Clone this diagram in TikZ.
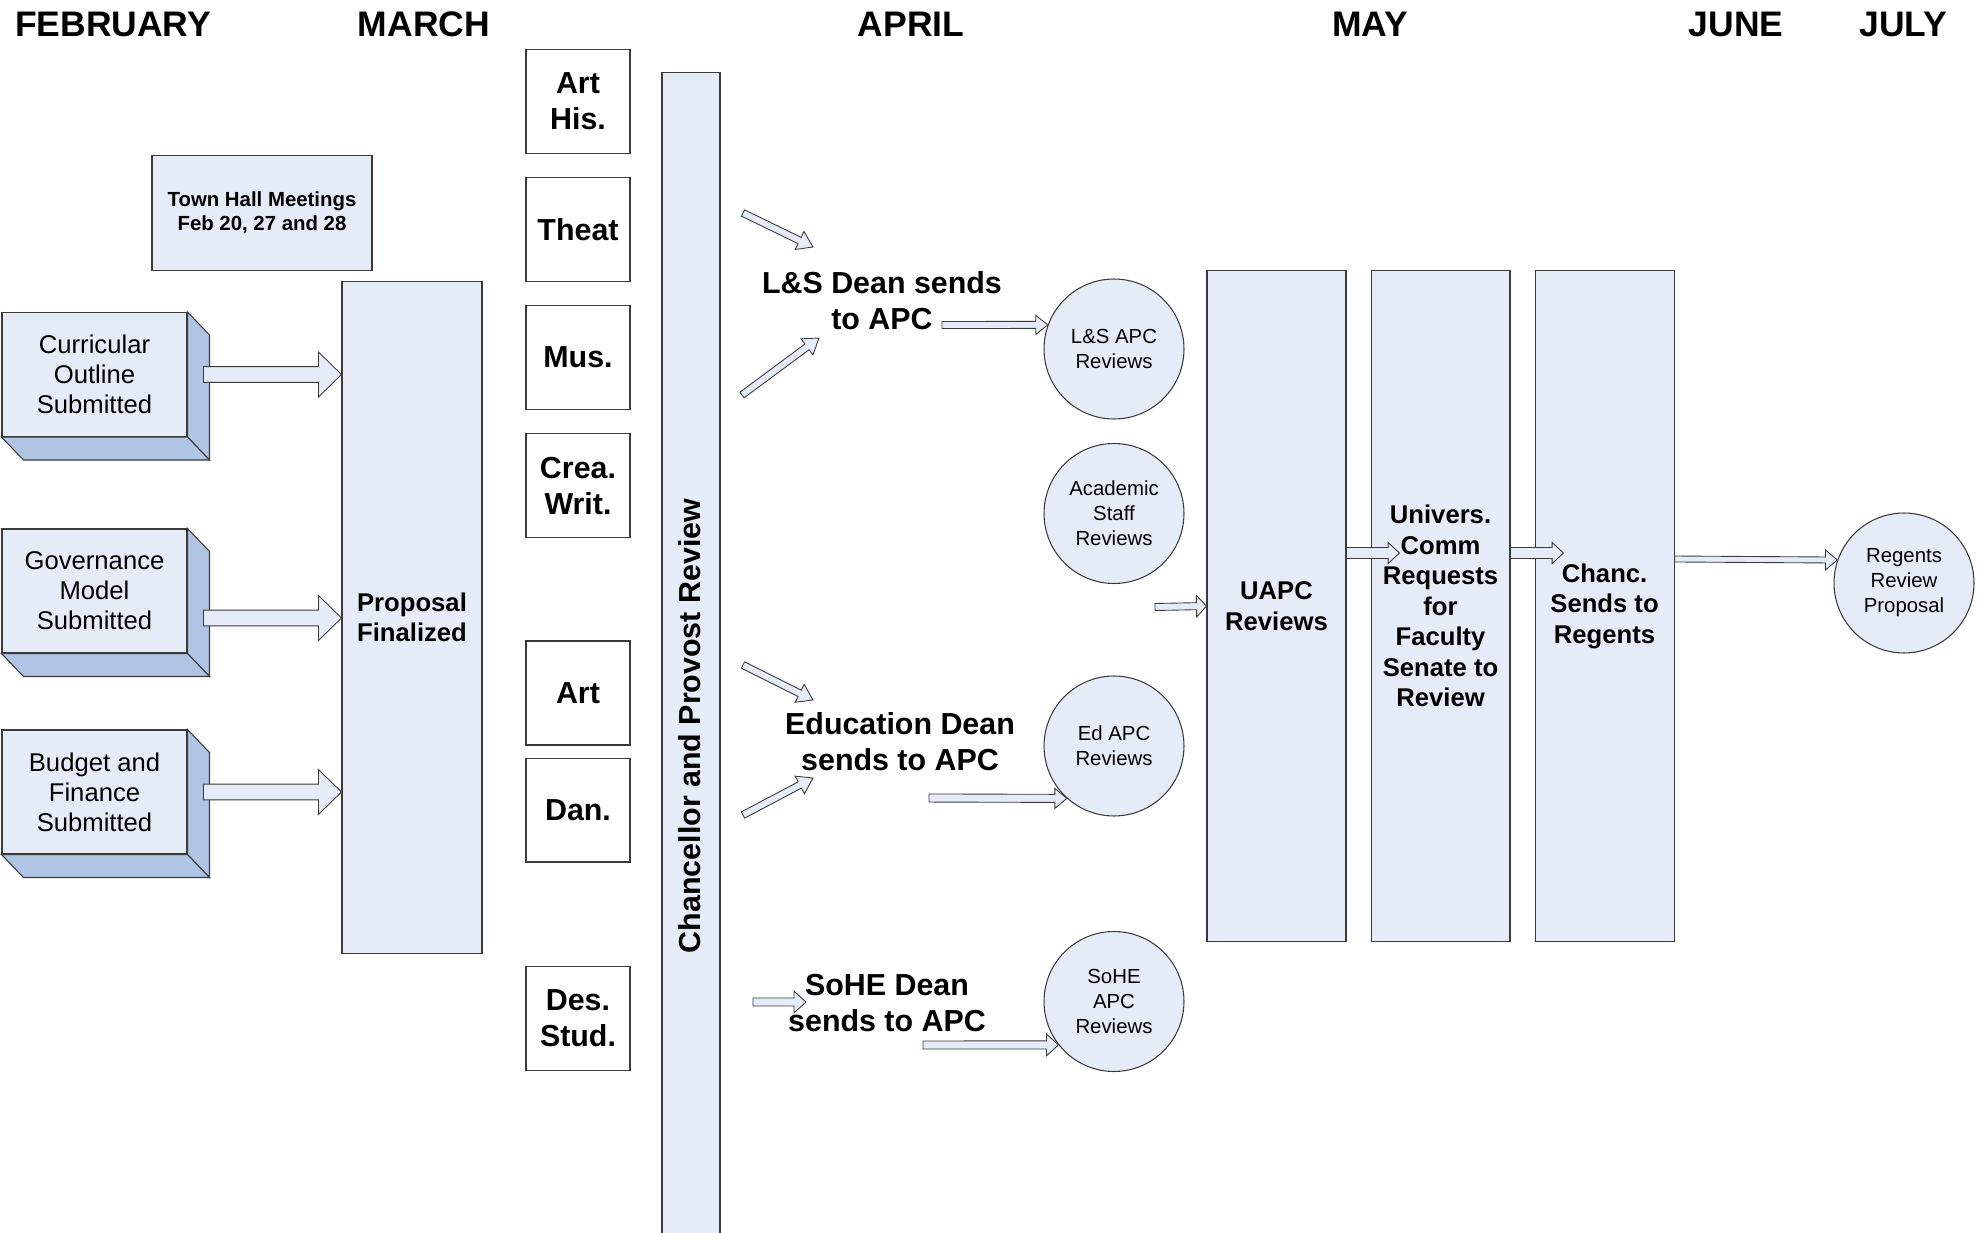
\documentclass[tikz,border=0pt]{standalone}
\usepackage{fontspec}
\setmainfont{Liberation Sans}
\usepackage{tikz}
\usetikzlibrary{positioning,calc}
\definecolor{linegray}{HTML}{3A3A3A}
\definecolor{paleblue}{HTML}{E6ECF7}
\definecolor{sideblue}{HTML}{B0C4E4}
\newcommand{\monthfont}{\bfseries\fontsize{20.2}{24}\selectfont}
\newcommand{\deptfont}{\bfseries\fontsize{17.3}{20.5}\selectfont}
\newcommand{\colfont}{\bfseries\fontsize{14.6}{17.4}\selectfont}
\newcommand{\cubefont}{\fontsize{14.6}{17}\selectfont}
\newcommand{\circfont}{\fontsize{11.6}{14.2}\selectfont}
\newcommand{\townfont}{\bfseries\fontsize{11.6}{13.7}\selectfont}
% block arrow: from, to, half shaft, half head, head length
\newcommand{\blockarrow}[5]{%
  \coordinate (ba-m) at ($(#2)!#5!(#1)$);
  \draw[blk] ($(#1)!#3!90:(#2)$) -- ($(ba-m)!#3!90:(#2)$) -- ($(ba-m)!#4!90:(#2)$) -- (#2)
    -- ($(ba-m)!#4!-90:(#2)$) -- ($(ba-m)!#3!-90:(#2)$) -- ($(#1)!#3!-90:(#2)$) -- cycle;}

\begin{document}
\begin{tikzpicture}[
    x=0.02cm, y=-0.02cm,
    box/.style={draw=linegray,fill=paleblue,line width=0.6pt,inner sep=0pt},
    cube/.style={box,minimum width=3.7cm,minimum height=2.48cm,align=center,
                 font=\cubefont},
    side/.style={draw=linegray,fill=sideblue,line width=0.6pt},
    dept/.style={draw=linegray,fill=white,line width=0.6pt,inner sep=0pt,
                 minimum width=2.08cm,minimum height=2.08cm,align=center,
                 font=\deptfont},
    circ/.style={box,circle,minimum size=2.8cm,align=center,font=\circfont},
    col/.style={box,minimum width=2.78cm,minimum height=13.44cm,align=center,
                font=\colfont},
    month/.style={font=\monthfont},
    dean/.style={align=center,font=\deptfont},
    blk/.style={draw=linegray,fill=paleblue,line width=0.5pt}
  ]
    \useasboundingbox (0,0) rectangle (1982,1233);

    % months
    \node[month] (feb) at (113,24)  {FEBRUARY};
    \node[month] (mar) at (424,24)  {MARCH};
    \node[month] (apr) at (911,24)  {APRIL};
    \node[month] (may) at (1370,24) {MAY};
    \node[month] (jun) at (1736,24) {JUNE};
    \node[month] (jul) at (1903,24) {JULY};

    % february
    \node[box,minimum width=4.4cm,minimum height=2.3cm,align=center,font=\townfont]
      (town) at (262,213) {Town Hall Meetings\\Feb 20, 27 and 28};
    \node[cube] (cur) at (94.5,374.5) {Curricular\\Outline\\Submitted};
    \node[cube] (gov) at (94.5,591)   {Governance\\Model\\Submitted};
    \node[cube] (bud) at (94.5,792)   {Budget and\\Finance\\Submitted};
    \foreach \c in {cur,gov,bud} {
      \draw[side] (\c.north east) -- ++(22,23) -- ($(\c.south east)+(22,23)$)
        -- (\c.south east) -- cycle;
      \draw[side] (\c.south west) -- (\c.south east) -- ++(22,23)
        -- ($(\c.south west)+(22,23)$) -- cycle;
    }

    % march
    \node[box,minimum width=2.8cm,minimum height=13.46cm,align=center,font=\colfont]
      (prop) at (412,617.5) {Proposal\\Finalized};
    \node[dept] (arthis) at (578,101.5) {Art\\His.};
    \node[dept, below=0.46cm of arthis] (theat) {Theat};
    \node[dept, below=0.46cm of theat]  (mus)   {Mus.};
    \node[dept, below=0.46cm of mus]    (crea)  {Crea.\\Writ.};
    \node[dept] (art) at (578,693) {Art};
    \node[dept, below=0.24cm of art]    (dan)   {Dan.};
    \node[dept] (des) at (578,1018.5) {Des.\\Stud.};

    \coordinate (cur-out) at ($(cur.east)+(16,0)$);
    \coordinate (gov-out) at ($(gov.east)+(16,27)$);
    \coordinate (bud-out) at ($(bud.east)+(16,0)$);
    \foreach \c in {cur,gov,bud} {
      \coordinate (\c-in) at (prop.west |- \c-out);
      \blockarrow{\c-out}{\c-in}{4.5pt}{12.8pt}{13.1pt}
    }

    % april
    \node[box,minimum width=1.16cm,minimum height=23.36cm] (cpr) at (691,656) {};
    \node[rotate=90,font=\deptfont] (cprtext) at (690,726) {Chancellor and Provost Review};

    \node[dean] (lsdean)   at (882,301)  {L\&S Dean sends\\to APC};
    \node[dean] (eddean)   at (900,742)  {Education Dean\\sends to APC};
    \node[dean] (sohedean) at (887,1003) {SoHE Dean\\sends to APC};

    \node[circ] (lsapc) at (1114,349)    {L\&S APC\\Reviews};
    \node[circ] (acs)   at (1114,513.5)  {Academic\\Staff\\Reviews};
    \node[circ] (edapc) at (1114,746)    {Ed APC\\Reviews};
    \node[circ] (sohe)  at (1114,1001.5) {SoHE\\APC\\Reviews};

    \coordinate (ls-a1) at (743,213); \coordinate (ls-a2) at (813,247);
    \coordinate (ls-b1) at (742,395); \coordinate (ls-b2) at (819,338);
    \coordinate (ed-a1) at (743,665); \coordinate (ed-a2) at (813,700);
    \coordinate (ed-b1) at (743,815); \coordinate (ed-b2) at (813,778);
    \coordinate (so-a1) at (753,1002); \coordinate (so-a2) at (806,1002);
    \blockarrow{ls-a1}{ls-a2}{2pt}{5.7pt}{8.5pt}
    \blockarrow{ls-b1}{ls-b2}{2pt}{5.7pt}{8.5pt}
    \blockarrow{ed-a1}{ed-a2}{2pt}{5.7pt}{8.5pt}
    \blockarrow{ed-b1}{ed-b2}{2pt}{5.7pt}{8.5pt}
    \blockarrow{so-a1}{so-a2}{2.3pt}{6.2pt}{6.8pt}

    \coordinate (ls-out) at (942,325);
    \coordinate (ed-out) at (929,798);
    \coordinate (so-out) at (923,1045);
    \blockarrow{ls-out}{lsapc.160}{2pt}{5.4pt}{6.8pt}
    \blockarrow{ed-out}{edapc.228}{2.3pt}{5.7pt}{6.8pt}
    \blockarrow{so-out}{sohe.218}{2.3pt}{6.2pt}{6.8pt}

    % may
    \node[col] (uapc) at (1276.5,606) {UAPC\\Reviews};
    \node[col, right=0.48cm of uapc] (univ)
      {Univers.\\Comm\\Requests\\for\\Faculty\\Senate to\\Review};
    \node[col, right=0.48cm of univ] (chanc) {Chanc.\\Sends to\\Regents};

    \coordinate (acs-out) at (1155,607);
    \blockarrow{acs-out}{uapc.west}{2pt}{6.2pt}{5.7pt}
    \coordinate (uapc-out) at ($(uapc.east)+(0,-53)$);
    \coordinate (univ-in)  at ($(univ.west)+(29,-53)$);
    \coordinate (univ-out) at ($(univ.east)+(0,-53)$);
    \coordinate (chanc-in) at ($(chanc.west)+(29,-53)$);
    \blockarrow{uapc-out}{univ-in}{3.1pt}{6pt}{6.5pt}
    \blockarrow{univ-out}{chanc-in}{3.1pt}{6pt}{6.5pt}

    % july
    \node[circ] (regents) at (1904,583) {Regents\\Review\\Proposal};
    \coordinate (chanc-out) at ($(chanc.east)+(0,-47)$);
    \blockarrow{chanc-out}{regents.161}{1.7pt}{5.7pt}{6.8pt}
  \end{tikzpicture}
\end{document}
